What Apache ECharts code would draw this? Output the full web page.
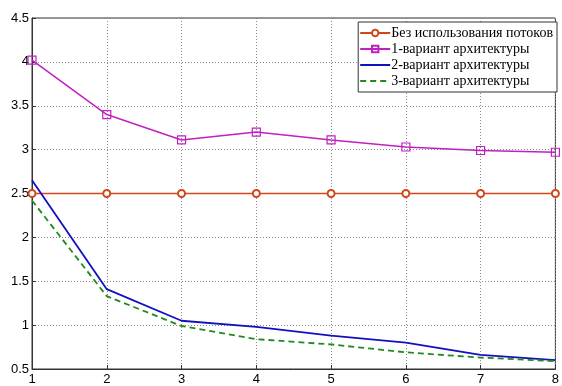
<!DOCTYPE html>
<html><head><meta charset="utf-8">
<script src="https://cdn.jsdelivr.net/npm/echarts@6/dist/echarts.min.js"></script>
<style>html,body{margin:0;padding:0;background:#fff}#c{width:562px;height:386px}</style>
</head><body><div id="c"></div>
<script>
var xValues = [1, 2, 3, 4, 5, 6, 7, 8];
var seriesNames = ['Без использования потоков', '1-вариант архитектуры', '2-вариант архитектуры', '3-вариант архитектуры'];
var noThreads = [2.5, 2.5, 2.5, 2.5, 2.5, 2.5, 2.5, 2.5];
var variant1 = [4.02, 3.40, 3.11, 3.20, 3.11, 3.03, 2.99, 2.97];
var variant2 = [2.65, 1.41, 1.05, 0.98, 0.88, 0.80, 0.66, 0.60];
var variant3 = [2.42, 1.33, 0.99, 0.84, 0.78, 0.69, 0.63, 0.59];

function pairs(ys){ return xValues.map(function(x,i){ return [x, ys[i]]; }); }

var chart = echarts.init(document.getElementById('c'), null, {renderer:'canvas'});
var axisFont = {color:'#000', fontFamily:'Liberation Sans, Arial', fontSize:13};
var gridLine = {show:true, lineStyle:{color:'#888', type:[1,2], width:1}};
chart.setOption({
  animation:false,
  backgroundColor:'#fff',
  grid:{left:32, right:4, top:18, bottom:15, show:true, borderColor:'#333', borderWidth:1, containLabel:false},
  legend:{
    orient:'vertical', right:5, top:22, backgroundColor:'#fff', borderColor:'#333', borderWidth:1,
    padding:[4,4,4,1], itemGap:2, itemWidth:30, itemHeight:8,
    textStyle:{fontFamily:'Liberation Serif, Times New Roman', fontSize:14, color:'#000', padding:[0,0,0,-4]},
    data:[
      {name:seriesNames[0]},
      {name:seriesNames[1]},
      {name:seriesNames[2], itemStyle:{opacity:0}},
      {name:seriesNames[3], itemStyle:{opacity:0}}
    ]
  },
  xAxis:{type:'value', min:1, max:8, interval:1,
    axisLine:{show:true, lineStyle:{color:'#333'}}, axisTick:{show:true, inside:true, length:4, lineStyle:{color:'#333'}},
    axisLabel:Object.assign({margin:4}, axisFont), splitLine:gridLine},
  yAxis:{type:'value', min:0.5, max:4.5, interval:0.5,
    axisLine:{show:true, lineStyle:{color:'#333'}}, axisTick:{show:true, inside:true, length:4, lineStyle:{color:'#333'}},
    axisLabel:Object.assign({margin:3}, axisFont), splitLine:gridLine},
  series:[
    {name:seriesNames[0], type:'line', data:pairs(noThreads), symbol:'emptyCircle', symbolSize:7,
     lineStyle:{color:'#d2461e', width:1.5}, itemStyle:{color:'#d2461e', borderWidth:1.2}},
    {name:seriesNames[1], type:'line', data:pairs(variant1), symbol:'rect', symbolSize:8,
     lineStyle:{color:'#c020c0', width:1.5}, itemStyle:{color:'rgba(255,255,255,0)', borderColor:'#c020c0', borderWidth:1.2}},
    {name:seriesNames[2], type:'line', data:pairs(variant2), symbol:'none',
     lineStyle:{color:'#1010c0', width:1.8}, itemStyle:{color:'#1010c0'}},
    {name:seriesNames[3], type:'line', data:pairs(variant3), symbol:'none',
     lineStyle:{color:'#208a20', width:1.8, type:[6,4]}, itemStyle:{color:'#208a20'}}
  ]
});
</script></body></html>
